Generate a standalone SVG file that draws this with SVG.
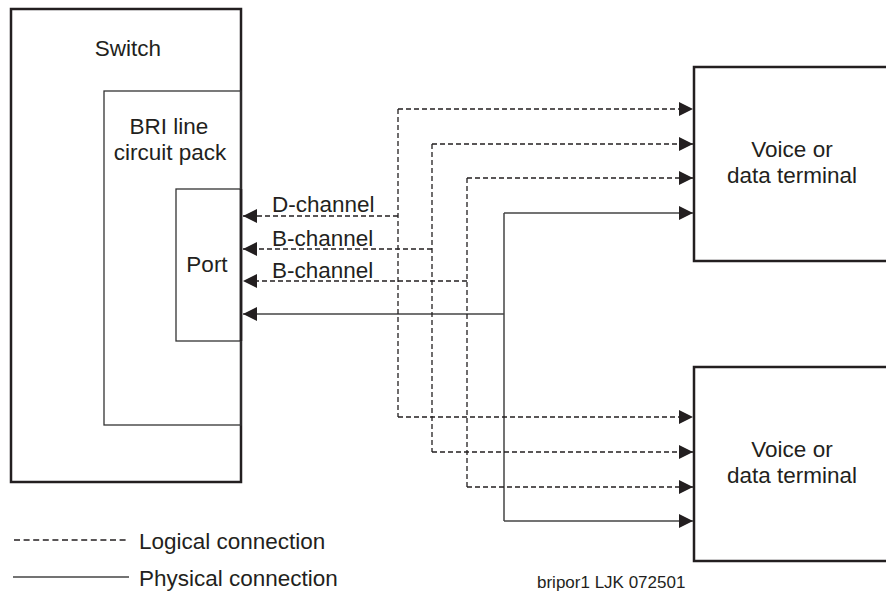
<svg xmlns="http://www.w3.org/2000/svg" width="886" height="592" viewBox="0 0 886 592">
<style>
text{font-family:"Liberation Sans",Arial,Helvetica,sans-serif;fill:#231f20;font-size:22.5px}
.c{text-anchor:middle}
.outer{fill:none;stroke:#231f20;stroke-width:2.5}
.inner{fill:none;stroke:#333;stroke-width:1.3}
.dash{fill:none;stroke:#231f20;stroke-width:1.3;stroke-dasharray:5,3}
.solid{fill:none;stroke:#444;stroke-width:1.5}
</style>
<defs>
<marker id="ah" viewBox="0 0 14 14" refX="14" refY="7" markerWidth="14" markerHeight="14" markerUnits="userSpaceOnUse" orient="auto">
<path d="M0,0 L14,7 L0,14 Z" fill="#231f20"/>
</marker>
</defs>
<g id="switch">
<rect class="outer" x="11" y="9" width="230" height="473"/>
<text class="c" x="128" y="56">Switch</text>
</g>
<g id="bri">
<rect class="inner" x="104" y="91" width="137" height="334"/>
<text class="c" x="169" y="134">BRI line</text>
<text class="c" x="170" y="160">circuit pack</text>
</g>
<g id="port">
<rect class="inner" x="176" y="189" width="65" height="152"/>
<line x1="241" y1="189" x2="241" y2="341" stroke="#231f20" stroke-width="2.5"/>
<text class="c" x="207" y="272">Port</text>
</g>
<g id="terminal1">
<rect class="outer" x="694" y="67" width="200" height="194"/>
<text class="c" x="792" y="157">Voice or</text>
<text class="c" x="792" y="183">data terminal</text>
</g>
<g id="terminal2">
<rect class="outer" x="694" y="367" width="200" height="194"/>
<text class="c" x="792" y="457">Voice or</text>
<text class="c" x="792" y="483">data terminal</text>
</g>
<g id="connectors">
<path class="dash" d="M398,216 H243" marker-end="url(#ah)"/>
<path class="dash" d="M432,249 H243" marker-end="url(#ah)"/>
<path class="dash" d="M467,281 H243" marker-end="url(#ah)"/>
<path class="solid" d="M504,314 H243" marker-end="url(#ah)"/>
<path class="dash" d="M398,109 V417"/>
<path class="dash" d="M432,144 V452"/>
<path class="dash" d="M467,178 V487"/>
<path class="solid" d="M504,213 V521"/>
<path class="dash" d="M398,109 H693" marker-end="url(#ah)"/>
<path class="dash" d="M432,144 H693" marker-end="url(#ah)"/>
<path class="dash" d="M467,178 H693" marker-end="url(#ah)"/>
<path class="solid" d="M504,213 H693" marker-end="url(#ah)"/>
<path class="dash" d="M398,417 H693" marker-end="url(#ah)"/>
<path class="dash" d="M432,452 H693" marker-end="url(#ah)"/>
<path class="dash" d="M467,487 H693" marker-end="url(#ah)"/>
<path class="solid" d="M504,521 H693" marker-end="url(#ah)"/>
<text x="272" y="212">D-channel</text>
<text x="272" y="246">B-channel</text>
<text x="272" y="278">B-channel</text>
</g>
<g id="legend">
<line class="dash" x1="14" y1="540" x2="129" y2="540" style="stroke-dasharray:6,3.6"/>
<line class="solid" x1="13" y1="577" x2="129" y2="577"/>
<text x="139" y="549">Logical connection</text>
<text x="139" y="586">Physical connection</text>
<text x="537" y="588" style="font-size:17px">bripor1 LJK 072501</text>
</g>
</svg>
